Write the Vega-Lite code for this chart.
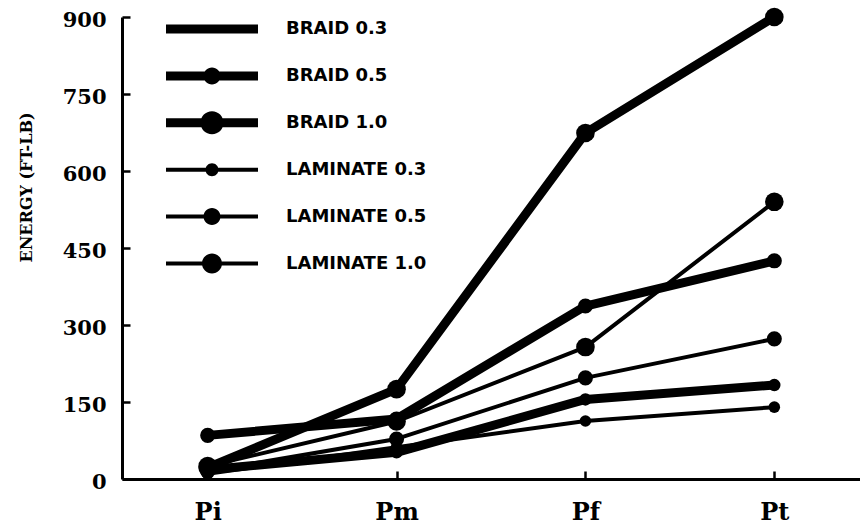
{
  "$schema": "https://vega.github.io/schema/vega-lite/v6.json",
  "width": 738,
  "height": 462,
  "autosize": {"type": "none"},
  "padding": {"left": 122, "top": 17, "right": 0, "bottom": 50},
  "background": "white",
  "config": {
    "view": {"stroke": null},
    "axis": {
      "domainColor": "black", "domainWidth": 3, "tickColor": "black", "tickWidth": 2.5,
      "tickSize": -8, "grid": false, "labelColor": "black", "titleColor": "black",
      "labelFont": "DejaVu Serif", "labelFontWeight": "bold", "titleFont": "DejaVu Serif", "titleFontWeight": "bold"
    }
  },
  "data": {"values": [
    {"series": "BRAID 0.3", "stage": "Pi", "energy": 18},
    {"series": "BRAID 0.3", "stage": "Pm", "energy": 52},
    {"series": "BRAID 0.3", "stage": "Pf", "energy": 155},
    {"series": "BRAID 0.3", "stage": "Pt", "energy": 183},
    {"series": "BRAID 0.5", "stage": "Pi", "energy": 85},
    {"series": "BRAID 0.5", "stage": "Pm", "energy": 117},
    {"series": "BRAID 0.5", "stage": "Pf", "energy": 337},
    {"series": "BRAID 0.5", "stage": "Pt", "energy": 425},
    {"series": "BRAID 1.0", "stage": "Pi", "energy": 22},
    {"series": "BRAID 1.0", "stage": "Pm", "energy": 175},
    {"series": "BRAID 1.0", "stage": "Pf", "energy": 674},
    {"series": "BRAID 1.0", "stage": "Pt", "energy": 900},
    {"series": "LAMINATE 0.3", "stage": "Pi", "energy": 10},
    {"series": "LAMINATE 0.3", "stage": "Pm", "energy": 62},
    {"series": "LAMINATE 0.3", "stage": "Pf", "energy": 113},
    {"series": "LAMINATE 0.3", "stage": "Pt", "energy": 140},
    {"series": "LAMINATE 0.5", "stage": "Pi", "energy": 15},
    {"series": "LAMINATE 0.5", "stage": "Pm", "energy": 78},
    {"series": "LAMINATE 0.5", "stage": "Pf", "energy": 197},
    {"series": "LAMINATE 0.5", "stage": "Pt", "energy": 273},
    {"series": "LAMINATE 1.0", "stage": "Pi", "energy": 25},
    {"series": "LAMINATE 1.0", "stage": "Pm", "energy": 112},
    {"series": "LAMINATE 1.0", "stage": "Pf", "energy": 257},
    {"series": "LAMINATE 1.0", "stage": "Pt", "energy": 540}
  ]},
  "encoding": {
    "x": {"field": "stage", "type": "ordinal", "sort": ["Pi", "Pm", "Pf", "Pt"],
      "scale": {"type": "point", "padding": 0.4536},
      "axis": {"title": null, "labelAngle": 0, "labelFontSize": 24, "labelPadding": 29}},
    "y": {"field": "energy", "type": "quantitative",
      "scale": {"domain": [0, 900], "nice": false},
      "axis": {"values": [0, 150, 300, 450, 600, 750, 900], "labelFontSize": 21, "labelPadding": 24, "labelOffset": 3,
        "title": "ENERGY (FT-LB)", "titleFontSize": 16, "titleX": -96, "titleY": 170,
        "titleAlign": "center", "titleBaseline": "middle", "titleAngle": -90}}
  },
  "layer": [
    {
      "mark": {"type": "line", "color": "black", "strokeCap": "round", "strokeJoin": "round"},
      "encoding": {
        "detail": {"field": "series"},
        "strokeWidth": {"field": "series", "type": "nominal",
          "scale": {"type": "ordinal", "range": [9, 9, 9, 4, 4, 4]}, "legend": null}
      }
    },
    {
      "mark": {"type": "point", "filled": true, "color": "black", "opacity": 1, "shape": "circle"},
      "encoding": {
        "size": {"field": "series", "type": "nominal",
          "scale": {"type": "ordinal", "range": [154, 227, 346, 133, 227, 346]}, "legend": null}
      }
    },
    {
      "mark": {"type": "point", "filled": true, "color": "black", "opacity": 0},
      "encoding": {
        "shape": {"field": "series", "type": "nominal",
          "scale": {"domain": ["BRAID 0.3", "BRAID 0.5", "BRAID 1.0", "LAMINATE 0.3", "LAMINATE 0.5", "LAMINATE 1.0"],
            "range": [
              "M0,-1L0,-1ZM0,1L0,1ZM-4,-0.391H4V0.391H-4Z",
              "M0,-1L0,-1ZM0,1L0,1ZM-4,-0.391H4V0.391H-4ZM0.74,0C0.74,0.409 0.409,0.74 0,0.74C-0.409,0.74 -0.74,0.409 -0.74,0C-0.74,-0.409 -0.409,-0.74 0,-0.74C0.409,-0.74 0.74,-0.409 0.74,0Z",
              "M0,-1L0,-1ZM0,1L0,1ZM-4,-0.391H4V0.391H-4ZM1,0C1,0.552 0.552,1 0,1C-0.552,1 -1,0.552 -1,0C-1,-0.552 -0.552,-1 0,-1C0.552,-1 1,-0.552 1,0Z",
              "M0,-1L0,-1ZM0,1L0,1ZM-4,-0.174H4V0.174H-4ZM0.565,0C0.565,0.312 0.312,0.565 0,0.565C-0.312,0.565 -0.565,0.312 -0.565,0C-0.565,-0.312 -0.312,-0.565 0,-0.565C0.312,-0.565 0.565,-0.312 0.565,0Z",
              "M0,-1L0,-1ZM0,1L0,1ZM-4,-0.174H4V0.174H-4ZM0.74,0C0.74,0.409 0.409,0.74 0,0.74C-0.409,0.74 -0.74,0.409 -0.74,0C-0.74,-0.409 -0.409,-0.74 0,-0.74C0.409,-0.74 0.74,-0.409 0.74,0Z",
              "M0,-1L0,-1ZM0,1L0,1ZM-4,-0.174H4V0.174H-4ZM0.87,0C0.87,0.48 0.48,0.87 0,0.87C-0.48,0.87 -0.87,0.48 -0.87,0C-0.87,-0.48 -0.48,-0.87 0,-0.87C0.48,-0.87 0.87,-0.48 0.87,0Z"
            ]},
          "legend": {
            "title": null, "orient": "none", "legendX": 77.5, "legendY": -0.5, "padding": 0,
            "symbolSize": 529, "symbolStrokeWidth": 1.5, "symbolOpacity": 1, "symbolStrokeColor": "transparent",
            "symbolFillColor": "black", "rowPadding": 17.9, "labelOffset": 61.5,
            "labelFont": "DejaVu Sans", "labelFontWeight": "bold", "labelFontSize": 18, "labelColor": "black",
            "labelLimit": 300
          }
        }
      }
    }
  ]
}
